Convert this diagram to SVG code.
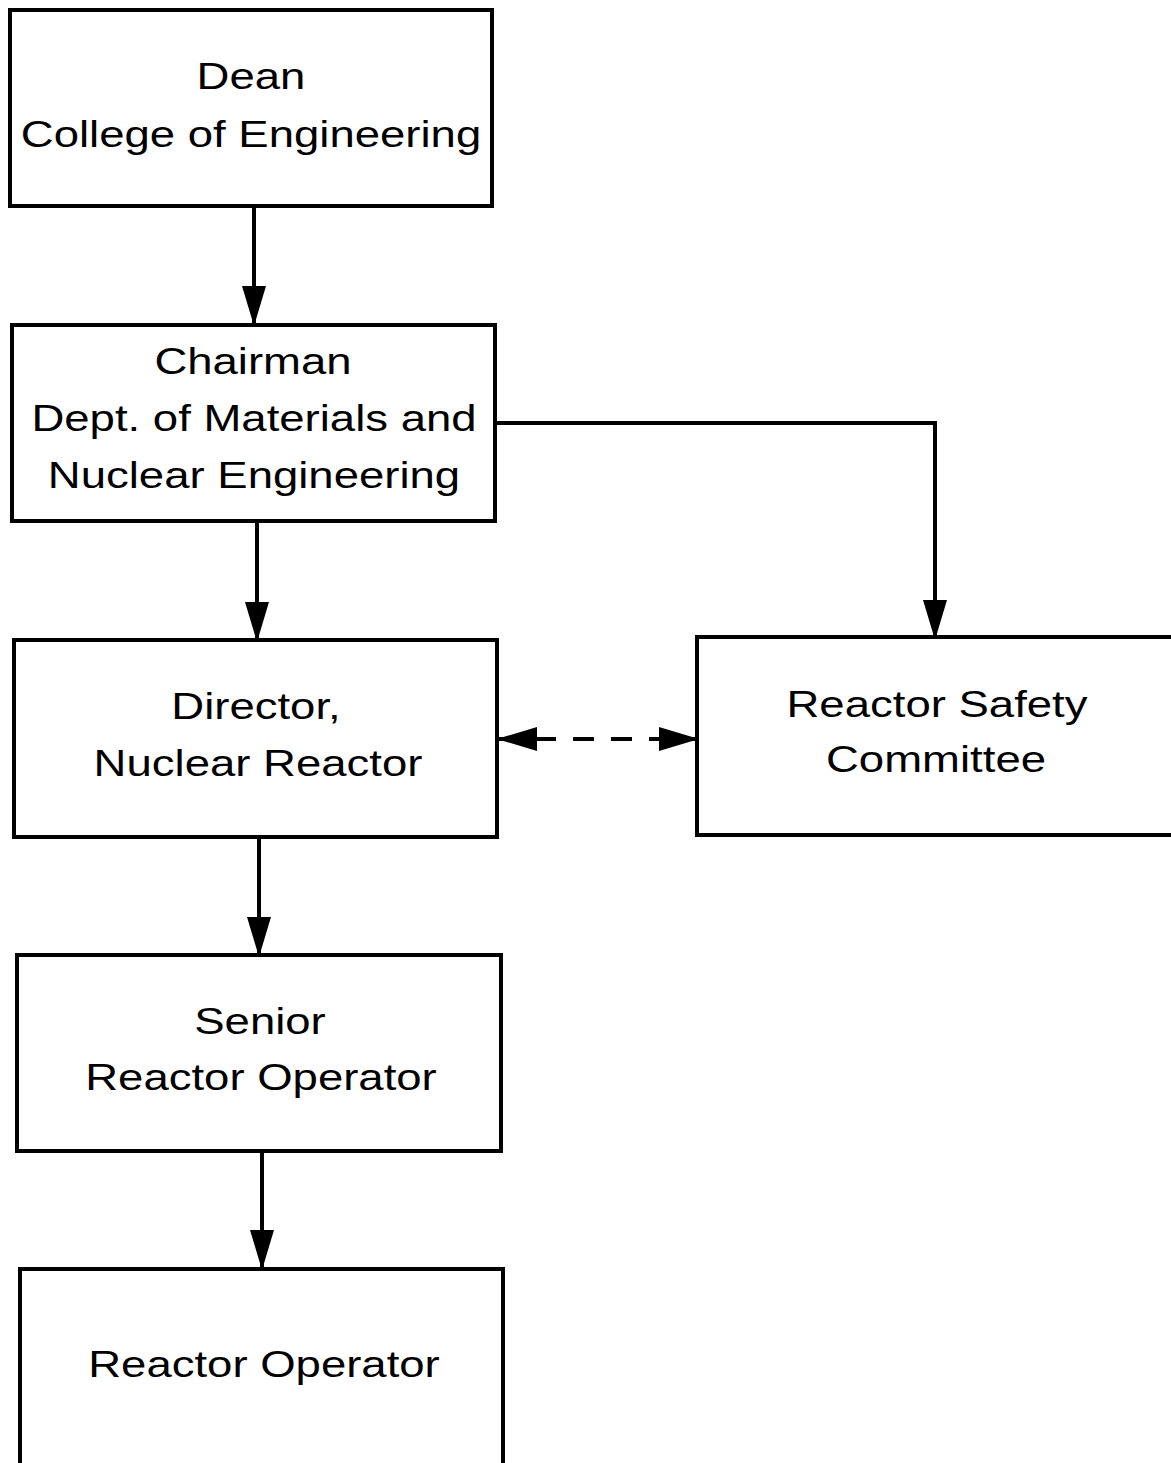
<svg xmlns="http://www.w3.org/2000/svg" width="1171" height="1463" viewBox="0 0 1171 1463">
<style>
.box{fill:#fff;stroke:#000;stroke-width:4}
.lbl{font-family:"Liberation Sans",Arial,sans-serif;font-size:37px;fill:#000;text-anchor:middle}
.conn{fill:none;stroke:#000;stroke-width:4}
.dash{stroke-dasharray:21 17}
</style>
<defs>
<marker id="ah" markerUnits="userSpaceOnUse" markerWidth="42" markerHeight="26" refX="40" refY="13" orient="auto-start-reverse" viewBox="0 0 42 26">
<path d="M0,1 L40,13 L0,25 z" fill="#000"/>
</marker>
</defs>
<rect width="1171" height="1463" fill="#fff"/>
<g id="connectors">
<line class="conn" x1="254" y1="207" x2="254" y2="326" marker-end="url(#ah)"/>
<line class="conn" x1="257" y1="522" x2="257" y2="642" marker-end="url(#ah)"/>
<line class="conn" x1="259" y1="838" x2="259" y2="957" marker-end="url(#ah)"/>
<line class="conn" x1="262" y1="1152" x2="262" y2="1270" marker-end="url(#ah)"/>
<polyline class="conn" points="493,423 935,423 935,640" marker-end="url(#ah)"/>
<line class="conn dash" x1="497" y1="739" x2="699" y2="739" marker-start="url(#ah)" marker-end="url(#ah)"/>
</g>
<g id="dean">
<rect class="box" x="10" y="10" width="482" height="196"/>
<text class="lbl" transform="translate(251,89) scale(1.23,1)">Dean</text>
<text class="lbl" transform="translate(251,147) scale(1.23,1)">College of Engineering</text>
</g>
<g id="chairman">
<rect class="box" x="12" y="325" width="483" height="196"/>
<text class="lbl" transform="translate(253,374) scale(1.23,1)">Chairman</text>
<text class="lbl" transform="translate(254,431) scale(1.23,1)">Dept. of Materials and</text>
<text class="lbl" transform="translate(254,488) scale(1.23,1)">Nuclear Engineering</text>
</g>
<g id="director">
<rect class="box" x="14" y="640" width="483" height="197"/>
<text class="lbl" transform="translate(256,719) scale(1.23,1)">Director,</text>
<text class="lbl" transform="translate(258,776) scale(1.23,1)">Nuclear Reactor</text>
</g>
<g id="safety">
<rect class="box" x="697" y="637" width="480" height="198"/>
<text class="lbl" transform="translate(937,717) scale(1.23,1)">Reactor Safety</text>
<text class="lbl" transform="translate(936,772) scale(1.23,1)">Committee</text>
</g>
<g id="senior">
<rect class="box" x="17" y="955" width="484" height="196"/>
<text class="lbl" transform="translate(260,1034) scale(1.23,1)">Senior</text>
<text class="lbl" transform="translate(261,1090) scale(1.23,1)">Reactor Operator</text>
</g>
<g id="operator">
<rect class="box" x="20" y="1269" width="483" height="210"/>
<text class="lbl" transform="translate(264,1377) scale(1.23,1)">Reactor Operator</text>
</g>
</svg>
